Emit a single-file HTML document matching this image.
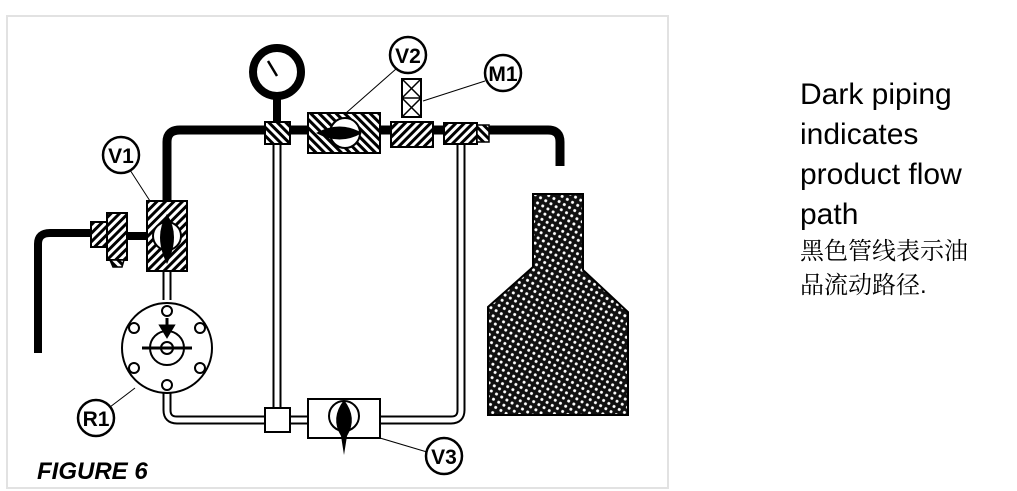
<!DOCTYPE html>
<html><head><meta charset="utf-8"><style>
html,body{margin:0;padding:0;background:#fff;}
body{width:1017px;height:491px;overflow:hidden;position:relative;}
.t{position:absolute;left:800px;font-family:"Liberation Sans",sans-serif;font-size:30px;line-height:40px;color:#000;}
.c{position:absolute;left:800px;font-family:"Liberation Sans","Noto Serif CJK SC",serif;font-size:24px;line-height:34px;color:#000;}
</style></head><body>
<svg width="1017" height="491" style="position:absolute;left:0;top:0" xmlns="http://www.w3.org/2000/svg">
<defs>
<pattern id="h" width="6" height="6" patternUnits="userSpaceOnUse" patternTransform="rotate(45)">
<rect width="6" height="6" fill="#fff"/><rect width="3" height="6" fill="#000"/></pattern>
<pattern id="h2" width="6" height="6" patternUnits="userSpaceOnUse" patternTransform="rotate(-45)">
<rect width="6" height="6" fill="#fff"/><rect width="3" height="6" fill="#000"/></pattern>
<pattern id="dots" width="6" height="6" patternUnits="userSpaceOnUse" patternTransform="rotate(30)">
<rect width="6" height="6" fill="#111"/><circle cx="3" cy="3" r="1.5" fill="#fff"/></pattern>
</defs>
<rect x="7" y="16" width="661" height="472" fill="none" stroke="#e2e2e2" stroke-width="2"/>
<path d="M38,353 V244 Q38,233 50,233 H92" fill="none" stroke="#000" stroke-width="8"/>
<path d="M127,236 H150" stroke="#000" stroke-width="8"/>
<path d="M167,205 V142 Q167,130 180,130 H548 Q560,130 560,142 V166" fill="none" stroke="#000" stroke-width="9"/>
<line x1="277" y1="95" x2="277" y2="124" stroke="#000" stroke-width="8"/>
<circle cx="277" cy="72" r="24" fill="#fff" stroke="#000" stroke-width="8"/>
<line x1="268" y1="61" x2="277" y2="76" stroke="#000" stroke-width="2.5"/>
<path d="M277,144 V410" fill="none" stroke="#000" stroke-width="9"/>
<path d="M277,144 V410" fill="none" stroke="#fff" stroke-width="5"/>
<path d="M167,271 V300" fill="none" stroke="#000" stroke-width="9"/>
<path d="M167,271 V300" fill="none" stroke="#fff" stroke-width="5"/>
<path d="M167,392 V410 Q167,420 177,420 H268 M290,420 H310 M380,420 H451 Q461,420 461,410 V143" fill="none" stroke="#000" stroke-width="9"/>
<path d="M167,392 V410 Q167,420 177,420 H268 M290,420 H310 M380,420 H451 Q461,420 461,410 V143" fill="none" stroke="#fff" stroke-width="5"/>
<rect x="91" y="222" width="16" height="25" fill="url(#h)" stroke="#000" stroke-width="2"/>
<rect x="107" y="213" width="20" height="47" fill="url(#h)" stroke="#000" stroke-width="2"/>
<path d="M110,260 L124,260 L122,267 L113,267 Z" fill="url(#h2)" stroke="#000" stroke-width="1.5"/>
<rect x="147" y="201" width="40" height="70" fill="url(#h)" stroke="#000" stroke-width="2"/>
<circle cx="167" cy="236" r="14" fill="#fff" stroke="#000" stroke-width="2"/>
<path d="M167,214 Q181,236 167,264 Q153,236 167,214 Z" fill="#000"/>
<rect x="265" y="122" width="25" height="22" fill="url(#h2)" stroke="#000" stroke-width="2"/>
<rect x="308" y="113" width="72" height="40" fill="url(#h2)" stroke="#000" stroke-width="2"/>
<circle cx="345" cy="133" r="15" fill="#fff" stroke="#000" stroke-width="2"/>
<path d="M316,133 Q340,120 362,133 Q340,146 316,133 Z" fill="#000"/>
<rect x="402" y="79" width="19" height="38" fill="#fff" stroke="#000" stroke-width="2"/>
<path d="M402,79 L421,98 L402,117 M421,79 L402,98 L421,117 M402,98 H421" stroke="#000" stroke-width="1.5" fill="none"/>
<rect x="391" y="122" width="42" height="25" fill="url(#h)" stroke="#000" stroke-width="2"/>
<rect x="444" y="123" width="33" height="21" fill="url(#h)" stroke="#000" stroke-width="2"/>
<rect x="477" y="125" width="12" height="17" fill="url(#h2)" stroke="#000" stroke-width="1.5"/>
<circle cx="167" cy="348" r="45" fill="#fff" stroke="#000" stroke-width="2"/>
<g fill="#fff" stroke="#000" stroke-width="2">
<circle cx="167" cy="311" r="5"/><circle cx="167" cy="385" r="5"/>
<circle cx="134" cy="328" r="5"/><circle cx="200" cy="328" r="5"/>
<circle cx="134" cy="368" r="5"/><circle cx="200" cy="368" r="5"/>
<circle cx="167" cy="348" r="17"/><circle cx="167" cy="348" r="6"/>
</g>
<line x1="142" y1="348" x2="192" y2="348" stroke="#000" stroke-width="3"/>
<path d="M167,318 V330 M161,326 L167,336 L173,326 Z" stroke="#000" stroke-width="3" fill="#000"/>
<rect x="265" y="408" width="25" height="24" fill="#fff" stroke="#000" stroke-width="2"/>
<rect x="308" y="399" width="72" height="39" fill="#fff" stroke="#000" stroke-width="2"/>
<circle cx="344" cy="416" r="15" fill="#fff" stroke="#000" stroke-width="2"/>
<path d="M344,400 Q358,418 347,436 L344,455 L341,436 Q330,418 344,400 Z" fill="#000"/>
<path d="M533,194 H583 V270 L628,312 V415 H488 V307 L533,267 Z" fill="url(#dots)" stroke="#000" stroke-width="2"/>
<g stroke="#000" stroke-width="1" fill="none">
<line x1="130" y1="170" x2="150" y2="201"/>
<line x1="396" y1="69" x2="346" y2="113"/>
<line x1="485" y1="81" x2="423" y2="101"/>
<line x1="110" y1="407" x2="135" y2="388"/>
<line x1="427" y1="452" x2="380" y2="438"/>
</g>
<g fill="#fff" stroke="#000" stroke-width="2.5">
<circle cx="121" cy="155" r="18"/><circle cx="408" cy="55" r="18"/><circle cx="503" cy="73" r="18"/>
<circle cx="96" cy="418" r="18"/><circle cx="444" cy="456" r="18"/>
</g>
<g fill="#000" font-family="Liberation Sans,sans-serif" font-weight="bold" font-size="21" text-anchor="middle">
<text x="121" y="163">V1</text><text x="408" y="63">V2</text><text x="503" y="81">M1</text>
<text x="96" y="426">R1</text><text x="444" y="464">V3</text>
</g>
<text x="37" y="479" font-family="Liberation Sans,sans-serif" font-weight="bold" font-style="italic" font-size="24" fill="#000">FIGURE 6</text>
</svg>
<div class="t" style="top:75px">Dark piping<br>indicates<br>product flow<br>path</div>
<div class="c" style="top:235px">黑色管线表示油<br>品流动路径.</div>
</body></html>
